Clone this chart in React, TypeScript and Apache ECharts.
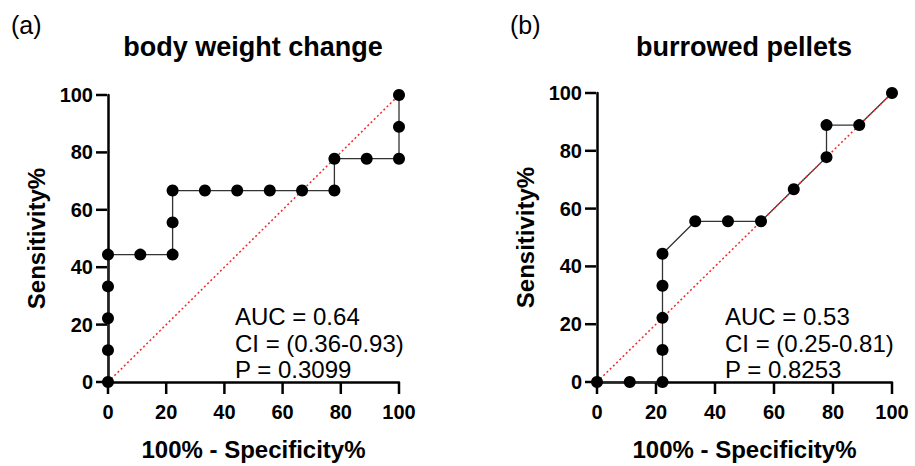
import React, { useEffect, useRef } from "react";
import * as echarts from "echarts";

// Panel (a): body weight change ROC
const rocAX = [0, 0, 0, 0, 0, 11.1, 22.2, 22.2, 22.2, 33.3, 44.4, 55.6, 66.7, 77.8, 77.8, 88.9, 100, 100, 100];
const rocAY = [0, 11.1, 22.2, 33.3, 44.4, 44.4, 44.4, 55.6, 66.7, 66.7, 66.7, 66.7, 66.7, 66.7, 77.8, 77.8, 77.8, 88.9, 100];
// Panel (b): burrowed pellets ROC
const rocBX = [0, 11.1, 22.2, 22.2, 22.2, 22.2, 22.2, 33.3, 44.4, 55.6, 66.7, 77.8, 77.8, 88.9, 100];
const rocBY = [0, 0, 0, 11.1, 22.2, 33.3, 44.4, 55.6, 55.6, 55.6, 66.7, 77.8, 88.9, 88.9, 100];
const diagonal = [[0, 0], [100, 100]];
const tickValues = [0, 20, 40, 60, 80, 100];

const titles = ["body weight change", "burrowed pellets"];
const panelLabels = ["(a)", "(b)"];
const statsA = ["AUC = 0.64", "CI = (0.36-0.93)", "P = 0.3099"];
const statsB = ["AUC = 0.53", "CI = (0.25-0.81)", "P = 0.8253"];
const xName = "100% - Specificity%";
const yName = "Sensitivity%";

const FONT = 'Arial, "Liberation Sans", sans-serif';

export default function App() {
  const ref = useRef<HTMLDivElement>(null);
  useEffect(() => {
    if (!ref.current) return;
    const chart = echarts.init(ref.current, null, { renderer: "svg" });
    const grids = [
      { left: 108, top: 95, width: 291, height: 293 },
      { left: 597, top: 93, width: 295, height: 295 },
    ];
    const makeAxis = (i: number, isX: boolean) => ({
      type: "value",
      gridIndex: i,
      min: 0,
      max: 100,
      interval: 20,
      splitLine: { show: false },
      axisLine: { show: true, onZero: false, lineStyle: { color: "#000", width: 2.5 } },
      axisTick: { show: false },
      name: isX ? xName : yName,
      nameLocation: "middle",
      nameGap: isX ? 55 : 60,
      nameTextStyle: { fontFamily: FONT, fontWeight: "bold", fontSize: 24, color: "#000" },
      axisLabel: { fontFamily: FONT, fontWeight: "bold", fontSize: 20, color: "#000", margin: isX ? 20 : 15 },
    });
    const rocs = [
      rocAX.map((x, k) => [x, rocAY[k]]),
      rocBX.map((x, k) => [x, rocBY[k]]),
    ];
    const series: any[] = [];
    rocs.forEach((d, i) => {
      // tick marks, placed through the axes' scales
      series.push({
        type: "scatter",
        xAxisIndex: i,
        yAxisIndex: i,
        data: tickValues.map((v) => [v, 0]),
        symbol: "rect",
        symbolSize: [2.5, 11],
        symbolOffset: [0, 6.5],
        clip: false,
        silent: true,
        itemStyle: { color: "#000", opacity: 1 },
        z: 1,
      });
      series.push({
        type: "scatter",
        xAxisIndex: i,
        yAxisIndex: i,
        data: tickValues.map((v) => [0, v]),
        symbol: "rect",
        symbolSize: [11, 2.5],
        symbolOffset: [-6.5, 0],
        clip: false,
        silent: true,
        itemStyle: { color: "#000", opacity: 1 },
        z: 1,
      });
      series.push({
        type: "line",
        xAxisIndex: i,
        yAxisIndex: i,
        data: d,
        showSymbol: false,
        symbol: "none",
        clip: false,
        lineStyle: { color: "#333", width: 1.3 },
        z: 2,
      });
      series.push({
        type: "line",
        xAxisIndex: i,
        yAxisIndex: i,
        data: diagonal,
        symbol: "none",
        clip: false,
        lineStyle: { color: "#ee2b2b", width: 1.5, type: [2, 2.5] },
        z: 3,
      });
      series.push({
        type: "scatter",
        xAxisIndex: i,
        yAxisIndex: i,
        data: d,
        symbol: "circle",
        symbolSize: 12,
        clip: false,
        itemStyle: { color: "#000", opacity: 1 },
        z: 12,
      });
    });
    const graphics: any[] = [];
    const titleX = [253, 744];
    const labelX = [11, 510];
    const statsX = [235, 725];
    const stats = [statsA, statsB];
    const statsY = [316, 343, 369];
    [0, 1].forEach((i) => {
      graphics.push({
        type: "text",
        x: labelX[i],
        y: 25,
        style: { text: panelLabels[i], fontFamily: FONT, fontSize: 25, fill: "#000", textAlign: "left", textVerticalAlign: "middle" },
      });
      graphics.push({
        type: "text",
        x: titleX[i],
        y: 47,
        style: { text: titles[i], fontFamily: FONT, fontWeight: "bold", fontSize: 27, fill: "#000", textAlign: "center", textVerticalAlign: "middle" },
      });
      stats[i].forEach((s, k) => {
        graphics.push({
          type: "text",
          x: statsX[i],
          y: statsY[k],
          style: { text: s, fontFamily: FONT, fontSize: 24, fill: "#000", textAlign: "left", textVerticalAlign: "middle" },
        });
      });
    });
    chart.setOption({
      animation: false,
      backgroundColor: "#fff",
      grid: grids,
      xAxis: [makeAxis(0, true), makeAxis(1, true)],
      yAxis: [makeAxis(0, false), makeAxis(1, false)],
      series,
      graphic: graphics,
    });
    return () => chart.dispose();
  }, []);
  return <div ref={ref} style={{ width: 915, height: 466, position: "absolute", left: 0, top: 0 }} />;
}
